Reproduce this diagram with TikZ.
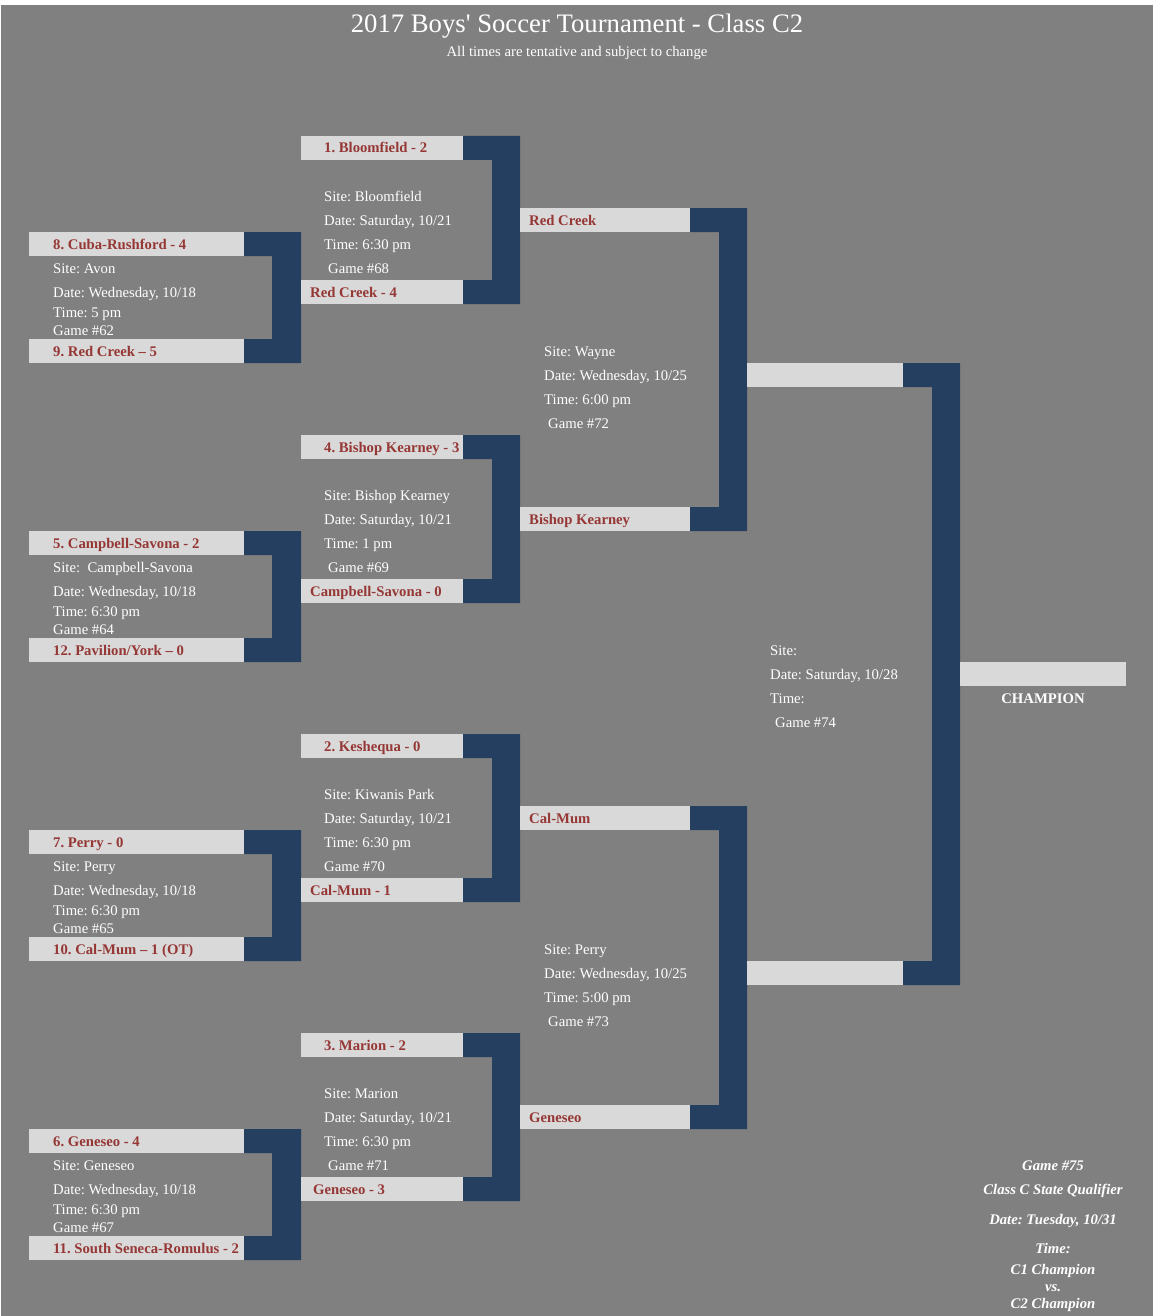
\documentclass[tikz,border=0pt]{standalone}
\usepackage{fontspec}
\setmainfont{Liberation Serif}
\frenchspacing
\definecolor{bg}{HTML}{808080}
\definecolor{lite}{HTML}{D9D9D9}
\definecolor{navy}{HTML}{243F60}
\definecolor{teamred}{HTML}{953735}
\tikzset{
  box/.style={fill=lite, inner sep=0pt, outer sep=0pt, minimum height=24pt, anchor=north west},
  team/.style={text=teamred, font=\fontsize{14.7}{17}\selectfont\bfseries, anchor=base west, inner sep=0pt},
  info/.style={text=white, font=\fontsize{14.7}{17}\selectfont, anchor=base west, inner sep=0pt},
  final/.style={text=white, font=\fontsize{14.7}{17}\selectfont\bfseries\itshape, anchor=base, inner sep=0pt}
}
\newcommand\mybrk[4]{\fill[navy] (#1.north east) -- (#1.north east -| #4) -- (#2.south east -| #4) -- (#2.south east) -- (#2.north east) -- (#2.north east -| #3) -- (#1.south east -| #3) -- (#1.south east) -- cycle;}
% round 1 pair
\newcommand\rone[8]{%
  \node[box, minimum width=215pt] (#1t) at (29,#2) {};
  \node[box, minimum width=215pt] (#1b) at (29,#2+107) {};
  \mybrk{#1t}{#1b}{ia}{oa}
  \node[team] (#1tn) at (53,#2+17) {#3};
  \node[team] (#1bn) at (53,#2+124) {#4};
  \node[info] (#1s) at (53,#2+41) {#5};
  \node[info] (#1d) at (53,#2+65) {#6};
  \node[info] (#1m) at (53,#2+85.5) {#7};
  \node[info] (#1g) at (53,#2+103) {#8};
}
% round 2 pair
\newcommand\rtwo[9]{%
  \node[box, minimum width=162pt] (#1t) at (301,#2) {};
  \node[box, minimum width=162pt] (#1b) at (301,#2+144) {};
  \mybrk{#1t}{#1b}{ib}{ob}
  \node[team] (#1tn) at (324,#2+17) {#3};
  \node[team] (#1bn) at (#5,#2+161) {#4};
  \node[info] (#1s) at (324,#2+65) {#6};
  \node[info] (#1d) at (324,#2+89) {#7};
  \node[info] (#1m) at (324,#2+113) {#8};
  \node[info] (#1g) at (324,#2+137) {#9};
}
% round 3 pair
\newcommand\rthree[8]{%
  \node[box, minimum width=170pt] (#1t) at (520,#2) {};
  \node[box, minimum width=170pt] (#1b) at (520,#2+299) {};
  \mybrk{#1t}{#1b}{ic}{oc}
  \node[team] (#1tn) at (529,#2+17) {#3};
  \node[team] (#1bn) at (529,#2+316) {#4};
  \node[info] (#1s) at (544,#2+148) {#5};
  \node[info] (#1d) at (544,#2+172) {#6};
  \node[info] (#1m) at (544,#2+196) {#7};
  \node[info] (#1g) at (548,#2+220) {#8};
}
\begin{document}
\begin{tikzpicture}[x=1pt,y=-1pt]
\fill[white] (0,0) rectangle (1155,1316);
\useasboundingbox (0,0) rectangle (1155,1316);
\fill[bg] (1,5) rectangle (1153,1316);
\coordinate (ia) at (272,0); \coordinate (oa) at (301,0);
\coordinate (ib) at (492,0); \coordinate (ob) at (520,0);
\coordinate (ic) at (719,0); \coordinate (oc) at (747,0);
\coordinate (id) at (932,0); \coordinate (od) at (960,0);

\node[text=white, font=\fontsize{26.7}{30}\selectfont, anchor=base, inner sep=0pt] (title) at (577,33) {2017 Boys\textquotesingle\ Soccer Tournament - Class C2};
\node[text=white, font=\fontsize{14.7}{17}\selectfont, anchor=base, inner sep=0pt] (subtitle) at (577,57) {All times are tentative and subject to change};

% Round 1
\rone{pa}{232}{8. Cuba-Rushford - 4}{9. Red Creek – 5}{Site: Avon}{Date: Wednesday, 10/18}{Time: 5 pm}{Game \#62}
\rone{pb}{531}{5. Campbell-Savona - 2}{12. Pavilion/York – 0}{Site:\ \ Campbell-Savona}{Date: Wednesday, 10/18}{Time: 6:30 pm}{Game \#64}
\rone{pc}{830}{7. Perry - 0}{10. Cal-Mum – 1 (OT)}{Site: Perry}{Date: Wednesday, 10/18}{Time: 6:30 pm}{Game \#65}
\rone{pd}{1129}{6. Geneseo - 4}{11. South Seneca-Romulus - 2}{Site: Geneseo}{Date: Wednesday, 10/18}{Time: 6:30 pm}{Game \#67}

% Round 2
\rtwo{qa}{136}{1. Bloomfield - 2}{Red Creek - 4}{310}{Site: Bloomfield}{Date: Saturday, 10/21}{Time: 6:30 pm}{\kern4pt Game \#68}
\rtwo{qb}{435}{4. Bishop Kearney - 3}{Campbell-Savona - 0}{310}{Site: Bishop Kearney}{Date: Saturday, 10/21}{Time: 1 pm}{\kern4pt Game \#69}
\rtwo{qc}{734}{2. Keshequa - 0}{Cal-Mum - 1}{310}{Site: Kiwanis Park}{Date: Saturday, 10/21}{Time: 6:30 pm}{Game \#70}
\rtwo{qd}{1033}{3. Marion - 2}{Geneseo - 3}{313}{Site: Marion}{Date: Saturday, 10/21}{Time: 6:30 pm}{\kern4pt Game \#71}

% Round 3
\rthree{ra}{208}{Red Creek}{Bishop Kearney}{Site: Wayne}{Date: Wednesday, 10/25}{Time: 6:00 pm}{Game \#72}
\rthree{rb}{806}{Cal-Mum}{Geneseo}{Site: Perry}{Date: Wednesday, 10/25}{Time: 5:00 pm}{Game \#73}

% Round 4
\node[box, minimum width=156pt] (st) at (747,363) {};
\node[box, minimum width=156pt] (sb) at (747,961) {};
\mybrk{st}{sb}{id}{od}
\node[info] (ss) at (770,655) {Site:};
\node[info] (sd) at (770,679) {Date: Saturday, 10/28};
\node[info] (sm) at (770,703) {Time:};
\node[info] (sg) at (775,727) {Game \#74};

% Champion
\node[box, minimum width=166pt] (champ) at (960,662) {};
\node[text=white, font=\fontsize{14.7}{17}\selectfont\bfseries, anchor=base, inner sep=0pt] (champl) at (1043,703) {CHAMPION};

% Game 75
\node[final] (f1) at (1053,1170) {Game \#75};
\node[final] (f2) at (1053,1194) {Class C State Qualifier};
\node[final] (f3) at (1053,1224) {Date: Tuesday, 10/31};
\node[final] (f4) at (1053,1253) {Time:};
\node[final] (f5) at (1053,1274) {C1 Champion};
\node[final] (f6) at (1053,1291) {vs.};
\node[final] (f7) at (1053,1308) {C2 Champion};
\end{tikzpicture}
\end{document}
